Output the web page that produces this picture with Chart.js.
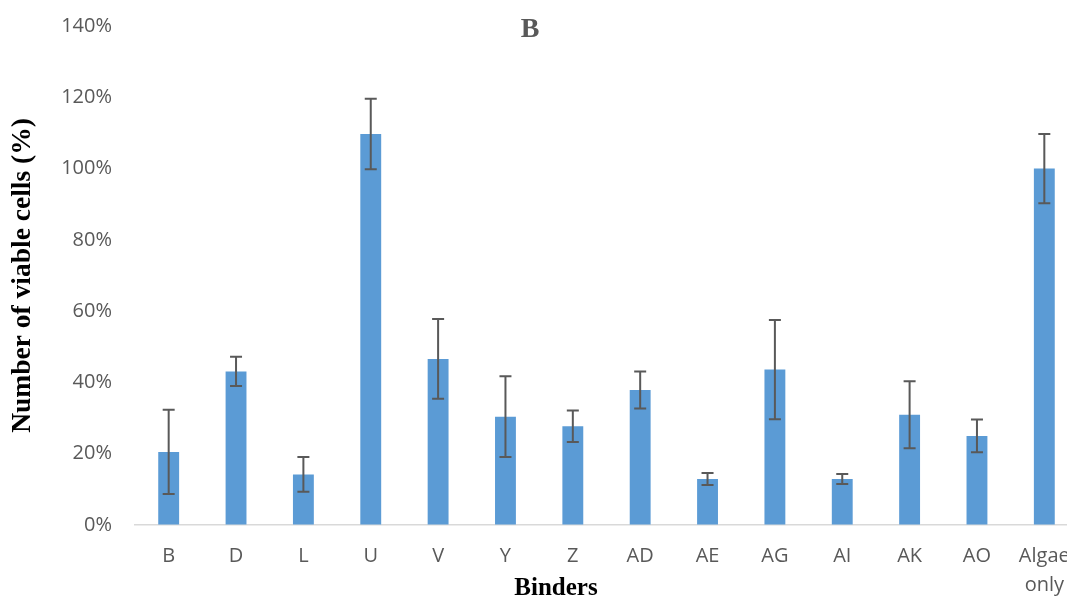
<!DOCTYPE html>
<html>
<head>
<meta charset="utf-8">
<script src="https://cdn.jsdelivr.net/npm/chart.js@4.4.1/dist/chart.umd.min.js"></script>
<style>
  html, body { margin: 0; padding: 0; background: #ffffff; overflow: hidden; }
  #wrap { width: 1078px; height: 601px; }
</style>
</head>
<body>
<div id="wrap"><canvas id="chart" width="1078" height="601"></canvas></div>
<script>
// Binder categories along the x axis
const binders = ['B', 'D', 'L', 'U', 'V', 'Y', 'Z', 'AD', 'AE', 'AG', 'AI', 'AK', 'AO', ['Algae', 'only']];
// Mean viable cells (%) per binder
const viableCells = [20.5, 43.1, 14.2, 109.7, 46.6, 30.4, 27.7, 37.9, 12.9, 43.6, 12.9, 30.9, 25.0, 100];
// Standard deviation (percentage points) for each mean
const viableError = [11.8, 4.1, 4.9, 9.9, 11.2, 11.3, 4.4, 5.2, 1.7, 13.9, 1.4, 9.4, 4.6, 9.7];
// Y axis tick range
const yMin = 0, yMax = 140, yStep = 20;
// Axis caption for the categories
const xCaption = 'Binders';

const labelGray = '#595959';
const hidden = 'rgba(0,0,0,0)';

// Draws symmetric error bars with caps over each bar
const errorBars = {
  id: 'errorBars',
  afterDatasetsDraw(chart) {
    const ctx = chart.ctx;
    const meta = chart.getDatasetMeta(0);
    const y = chart.scales.y;
    ctx.save();
    ctx.strokeStyle = '#595959';
    ctx.lineWidth = 2;
    meta.data.forEach((bar, i) => {
      const v = viableCells[i], e = viableError[i];
      const top = y.getPixelForValue(v + e);
      const bot = y.getPixelForValue(v - e);
      const cap = 6;
      ctx.beginPath();
      ctx.moveTo(bar.x, top); ctx.lineTo(bar.x, bot);
      ctx.moveTo(bar.x - cap, top); ctx.lineTo(bar.x + cap, top);
      ctx.moveTo(bar.x - cap, bot); ctx.lineTo(bar.x + cap, bot);
      ctx.stroke();
    });
    ctx.restore();
  }
};

// Category axis caption, placed under the tick labels
const xAxisCaption = {
  id: 'xAxisCaption',
  afterDraw(chart) {
    const ctx = chart.ctx;
    ctx.save();
    ctx.font = "bold 25px 'Liberation Serif', serif";
    ctx.fillStyle = '#000000';
    ctx.textAlign = 'center';
    ctx.textBaseline = 'middle';
    ctx.fillText(xCaption, 556, 589);
    ctx.restore();
  }
};

new Chart(document.getElementById('chart'), {
  type: 'bar',
  data: {
    labels: binders,
    datasets: [{
      data: viableCells,
      backgroundColor: '#5B9BD5',
      borderWidth: 0,
      categoryPercentage: 1,
      barPercentage: 0.31
    }]
  },
  options: {
    responsive: false,
    animation: false,
    devicePixelRatio: 1,
    layout: { padding: { left: -18, right: 0, top: 0, bottom: 0 } },
    plugins: {
      legend: { display: false },
      tooltip: { enabled: false },
      title: {
        display: true,
        text: 'B',
        color: labelGray,
        font: { family: "'Liberation Serif', serif", size: 28, weight: 'bold', lineHeight: 1 },
        padding: { top: 16, bottom: -18 }
      }
    },
    scales: {
      x: {
        grid: {
          display: true,
          drawOnChartArea: false,
          drawTicks: true,
          tickLength: 14,
          tickColor: hidden,
          color: hidden
        },
        border: { display: true, color: '#d9d9d9', width: 1.5 },
        ticks: {
          color: labelGray,
          font: { family: "'Open Sans', sans-serif", size: 20, lineHeight: '29px' },
          padding: 3,
          autoSkip: false,
          maxRotation: 0,
          minRotation: 0
        },
        afterFit(scale) { scale.height = 76; }
      },
      y: {
        min: yMin,
        max: yMax,
        grid: {
          display: true,
          drawOnChartArea: false,
          drawTicks: true,
          tickLength: 20,
          tickColor: hidden,
          color: hidden
        },
        border: { display: false },
        ticks: {
          stepSize: yStep,
          color: labelGray,
          font: { family: "'Open Sans', sans-serif", size: 20 },
          padding: 3,
          callback: (v) => v + '%'
        },
        title: {
          display: true,
          text: 'Number of viable cells (%)',
          color: '#000000',
          font: { family: "'Liberation Serif', serif", size: 27.5, weight: 'bold', lineHeight: 1 },
          padding: { top: 27.5, bottom: 0 }
        },
        afterFit(scale) { scale.width = 153; }
      }
    }
  },
  plugins: [errorBars, xAxisCaption]
});
</script>
</body>
</html>
